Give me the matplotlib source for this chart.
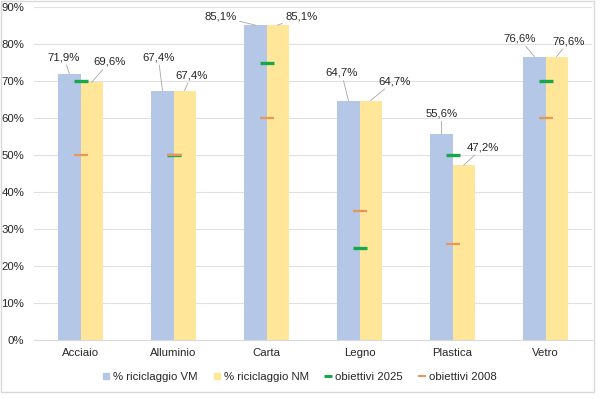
import matplotlib.pyplot as plt
import numpy as np
from matplotlib.patches import Patch, Rectangle
from matplotlib.lines import Line2D
from matplotlib.ticker import PercentFormatter

plt.rcParams['font.family'] = ['Liberation Sans', 'DejaVu Sans']

# data
materiali = ['Acciaio', 'Alluminio', 'Carta', 'Legno', 'Plastica', 'Vetro']
ricicl_vm = [0.719, 0.674, 0.851, 0.647, 0.556, 0.766]
ricicl_nm = [0.696, 0.674, 0.851, 0.647, 0.472, 0.766]
obiettivi_2025 = [0.70, 0.50, 0.75, 0.25, 0.50, 0.70]
obiettivi_2008 = [0.50, 0.50, 0.60, 0.35, 0.26, 0.60]

# label offsets (points) from top of each bar
off_vm = [(-4, 12), (-3, 24), (-25, 6), (-5, 20), (0, 15), (-11, 13)]
off_nm = [(13, 15), (5, 11), (17, 6), (17, 14), (14, 13), (9, 11)]

c_vm = '#B4C7E7'
c_nm = '#FFE699'
c_25 = '#17A84B'
c_08 = '#E9955C'

fig = plt.figure(figsize=(6, 3.99), dpi=100)
ax = fig.add_axes([34/600, 1-340/399, 558/600, 333/399])

# chart border like excel
fig.patches.append(Rectangle((1/600, 1-392/399), 593/600, 391/399, transform=fig.transFigure,
                             fill=False, edgecolor='#D9D9D9', linewidth=1))

x = np.arange(len(materiali))
w = 0.237
ax.bar(x - w/2, ricicl_vm, w, color=c_vm, zorder=2)
ax.bar(x + w/2, ricicl_nm, w, color=c_nm, zorder=2)
ax.plot(x, obiettivi_2025, linestyle='none', marker='_', markersize=10.5, mew=2.4, color=c_25, zorder=3)
ax.plot(x, obiettivi_2008, linestyle='none', marker='_', markersize=10.5, mew=1.6, color=c_08, zorder=4)

def fmt(v):
    return ('%.1f%%' % (v*100)).replace('.', ',')

for i in range(len(materiali)):
    ax.annotate(fmt(ricicl_vm[i]), xy=(x[i] - w/2, ricicl_vm[i]), xytext=off_vm[i],
                textcoords='offset points', ha='center', va='center', fontsize=8.2,
                color='#262626',
                arrowprops=dict(arrowstyle='-', color='#A6A6A6', lw=0.6, shrinkA=0, shrinkB=0))
    ax.annotate(fmt(ricicl_nm[i]), xy=(x[i] + w/2, ricicl_nm[i]), xytext=off_nm[i],
                textcoords='offset points', ha='center', va='center', fontsize=8.2,
                color='#262626',
                arrowprops=dict(arrowstyle='-', color='#A6A6A6', lw=0.6, shrinkA=0, shrinkB=0))

ax.set_xlim(-0.5, 5.5)
ax.set_ylim(0, 0.9)
ax.set_yticks(np.arange(0, 0.91, 0.1))
ax.yaxis.set_major_formatter(PercentFormatter(1.0, decimals=0))
ax.set_xticks(x)
ax.set_xticklabels(materiali)
ax.tick_params(axis='both', length=0, labelsize=8.2, labelcolor='#262626')
ax.tick_params(axis='y', pad=7)
ax.tick_params(axis='x', pad=6)
ax.grid(axis='y', color='#E0E0E0', linewidth=0.8, zorder=0)
ax.set_axisbelow(True)
for s in ['top', 'right', 'left']:
    ax.spines[s].set_visible(False)
ax.spines['bottom'].set_color('#D9D9D9')

handles = [Patch(color=c_vm), Patch(color=c_nm),
           Line2D([], [], linestyle='none', marker='_', markersize=6, mew=2.2, color=c_25),
           Line2D([], [], linestyle='none', marker='_', markersize=6, mew=1.4, color=c_08)]
labels = ['% riciclaggio VM', '% riciclaggio NM', 'obiettivi 2025', 'obiettivi 2008']
fig.legend(handles, labels, loc='center', bbox_to_anchor=(300/600, 1-377/399), ncol=4,
           frameon=False, fontsize=8.2, handlelength=0.5, handleheight=0.5,
           handletextpad=0.4, columnspacing=1.4, labelcolor='#262626')

fig.savefig('out.png', dpi=100)
